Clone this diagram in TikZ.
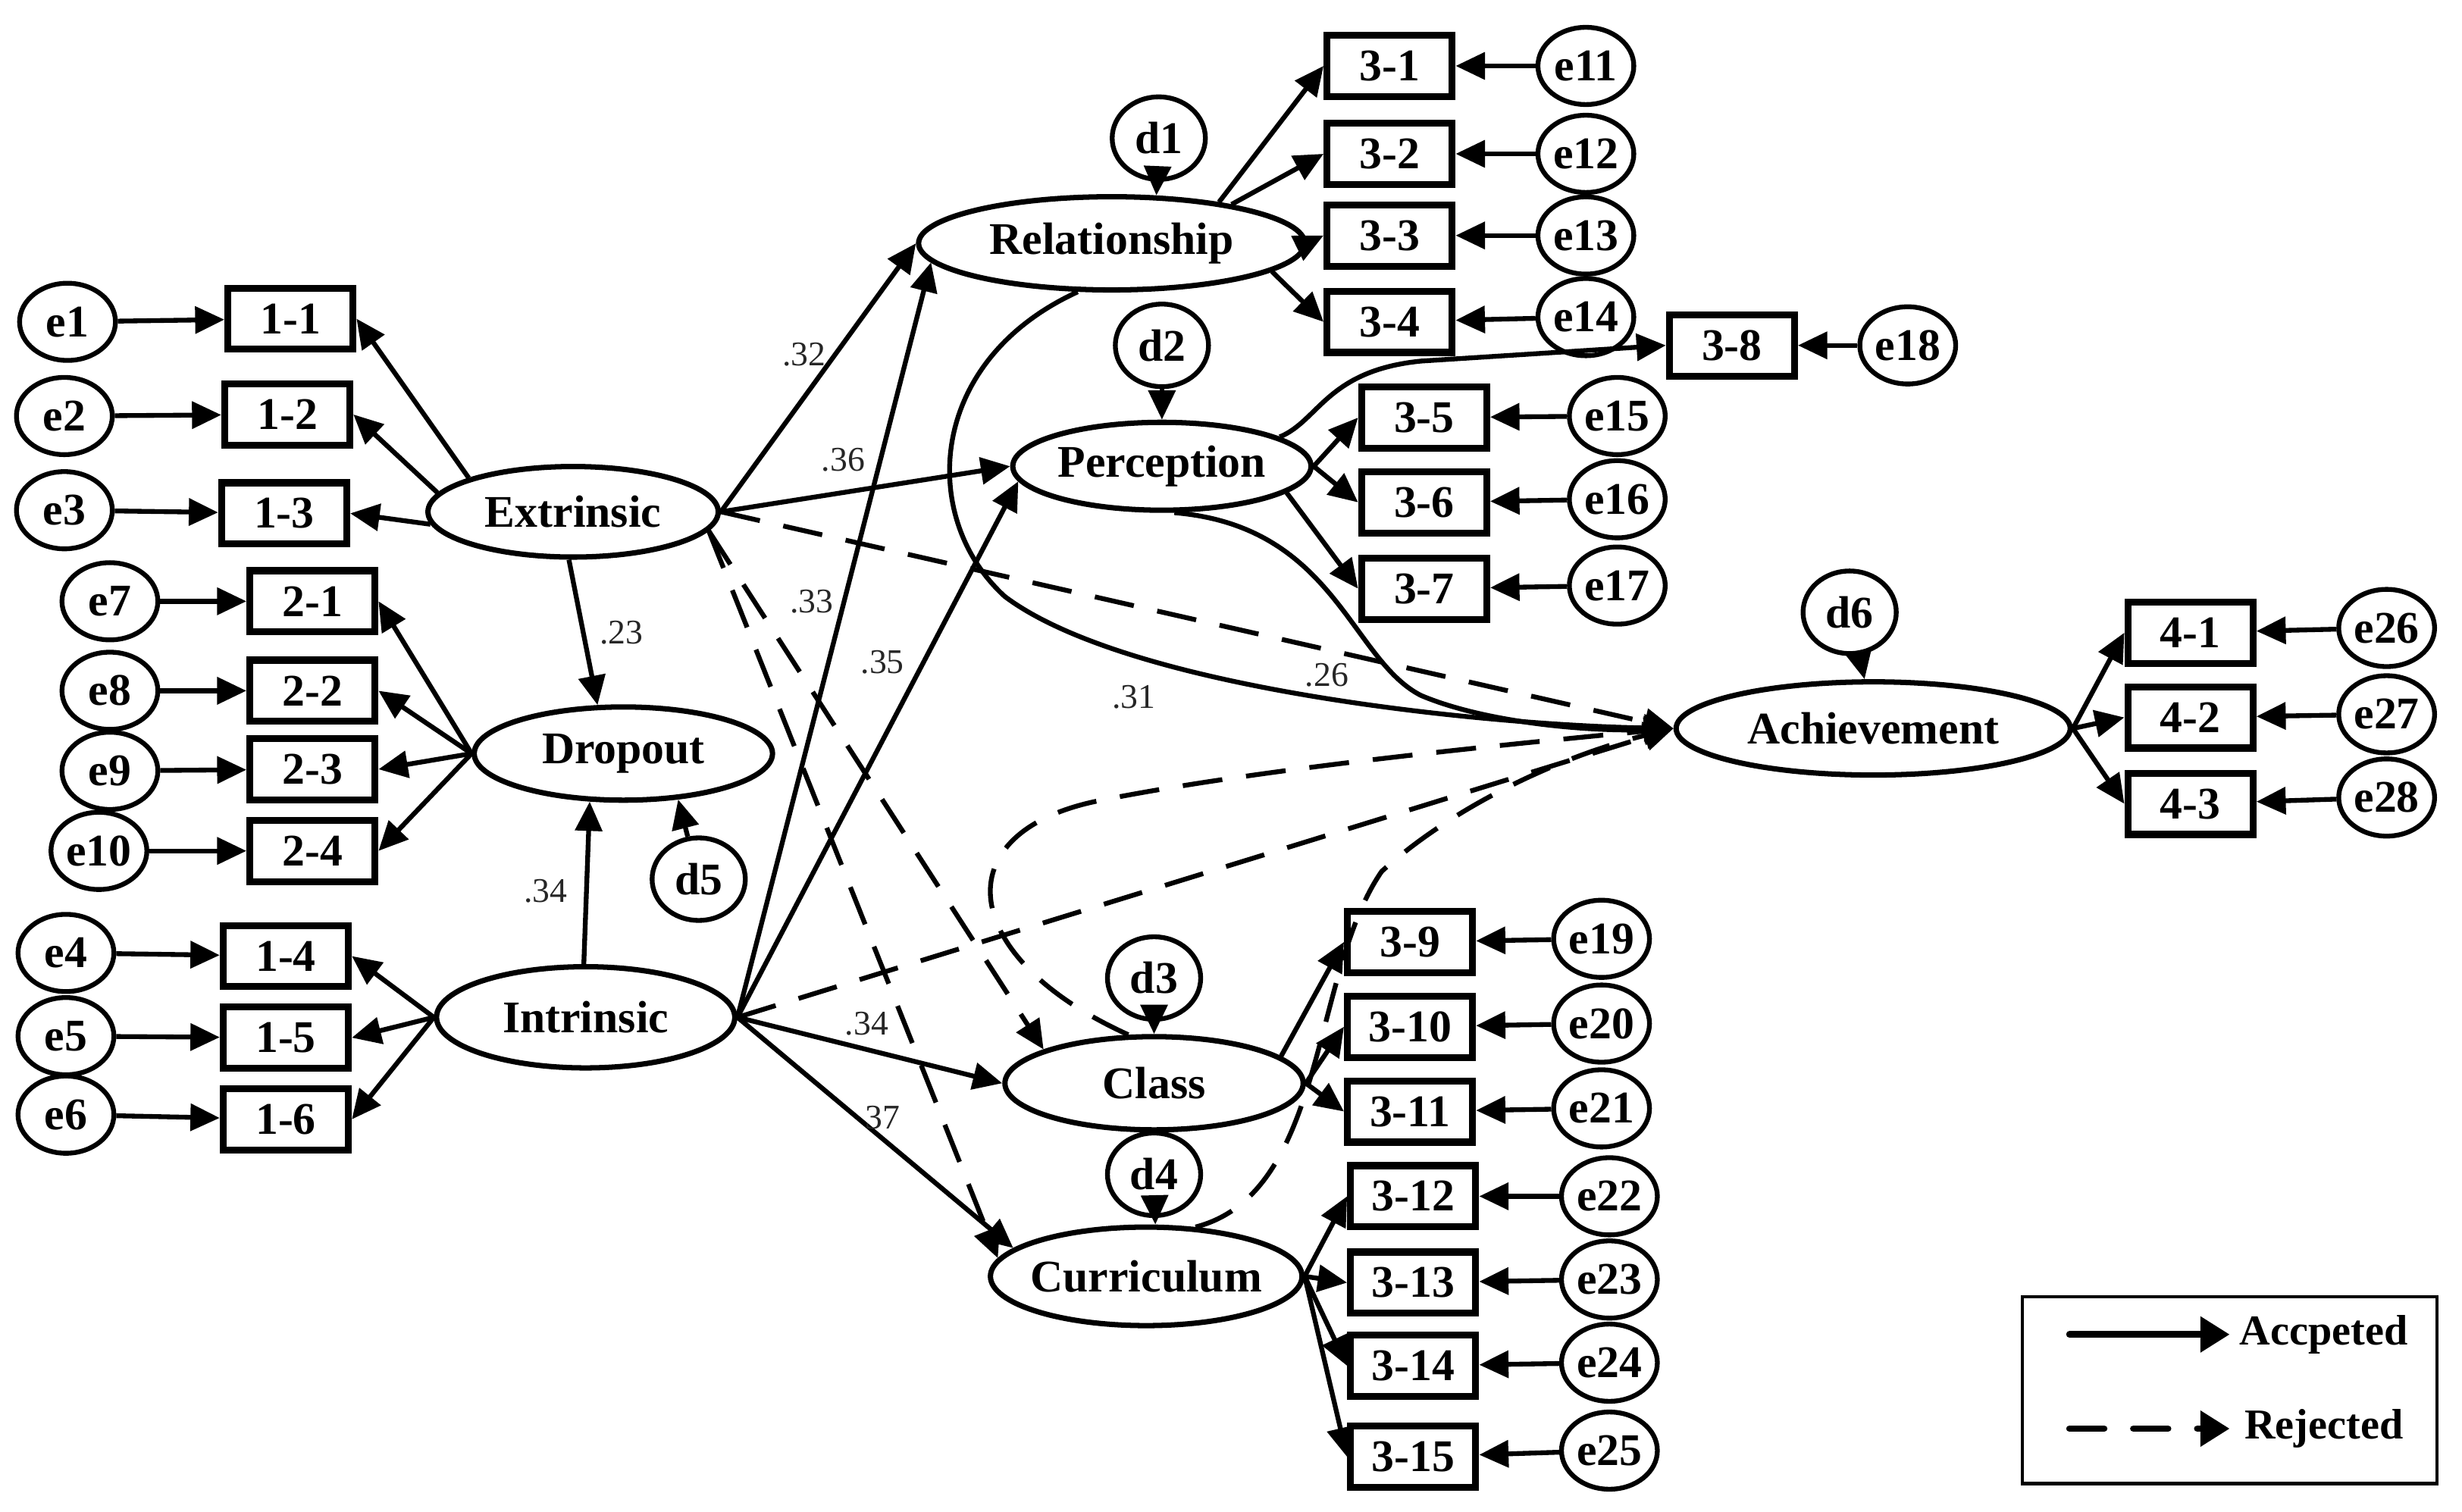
\documentclass[tikz,border=0pt]{standalone}
\usepackage{fontspec}
\setmainfont{Liberation Serif}
\usetikzlibrary{arrows.meta,shapes.geometric}
\begin{document}
\begin{tikzpicture}[x=0.020714cm,y=-0.020714cm,
 every node/.style={font=\fontsize{17}{20}\selectfont\bfseries},
 lat/.style={ellipse,draw,line width=2pt,inner sep=0pt},
 ind/.style={draw,line width=2.6pt,minimum width=47pt,minimum height=23pt,inner sep=0pt},
 err/.style={ellipse,draw,line width=1.8pt,minimum width=36pt,minimum height=29pt,inner sep=0pt},
 dis/.style={ellipse,draw,line width=1.8pt,minimum width=35pt,minimum height=31pt,inner sep=0pt},
 acc/.style={line width=1.8pt,-{Triangle[length=11pt,width=10pt]}},
 rej/.style={acc,dash pattern=on 15pt off 9pt},
 coef/.style={font=\fontsize{13}{15}\selectfont,text=black!85}]
\useasboundingbox (0,0) rectangle (1568,963);

% ---------- latent variables ----------
\node[lat,minimum width=109pt,minimum height=34pt] (ext) at (365,326) {Extrinsic};
\node[lat,minimum width=112pt,minimum height=35pt] (drop) at (397,480) {Dropout};
\node[lat,minimum width=112pt,minimum height=38pt] (intr) at (373,648) {Intrinsic};
\node[lat,minimum width=145pt,minimum height=35pt] (rel) at (708,155) {Relationship};
\node[lat,minimum width=112pt,minimum height=33pt] (perc) at (740,297) {Perception};
\node[lat,minimum width=112pt,minimum height=35pt] (cls) at (735,690) {Class};
\node[lat,minimum width=117pt,minimum height=37pt,inner xsep=-8pt] (cur) at (730,813) {Curriculum};
\node[lat,minimum width=148pt,minimum height=35pt] (ach) at (1193,464) {Achievement};

% ---------- disturbances ----------
\node[dis] (d1) at (738,88) {d1};
\node[dis] (d2) at (740,220) {d2};
\node[dis] (d3) at (735,623) {d3};
\node[dis] (d4) at (735,748) {d4};
\node[dis] (d5) at (445,560) {d5};
\node[dis] (d6) at (1178,390) {d6};

% ---------- left indicators ----------
\node[ind] (b11) at (185,203) {1-1};
\node[ind] (b12) at (183,264) {1-2};
\node[ind] (b13) at (181,327) {1-3};
\node[ind] (b21) at (199,383) {2-1};
\node[ind] (b22) at (199,440) {2-2};
\node[ind] (b23) at (199,490) {2-3};
\node[ind] (b24) at (199,542) {2-4};
\node[ind] (b14) at (182,609) {1-4};
\node[ind] (b15) at (182,661) {1-5};
\node[ind] (b16) at (182,713) {1-6};

\node[err] (e1) at (43,205) {e1};
\node[err] (e2) at (41,265) {e2};
\node[err] (e3) at (41,325) {e3};
\node[err] (e7) at (70,383) {e7};
\node[err] (e8) at (70,440) {e8};
\node[err] (e9) at (70,491) {e9};
\node[err] (e10) at (63,542) {e10};
\node[err] (e4) at (42,607) {e4};
\node[err] (e5) at (42,660) {e5};
\node[err] (e6) at (42,710) {e6};

% ---------- right indicators ----------
\node[ind] (b31) at (885,42) {3-1};
\node[ind] (b32) at (885,98) {3-2};
\node[ind] (b33) at (885,150) {3-3};
\node[ind] (b34) at (885,205) {3-4};
\node[ind] (b38) at (1103,220) {3-8};
\node[ind] (b35) at (907,266) {3-5};
\node[ind] (b36) at (907,320) {3-6};
\node[ind] (b37) at (907,375) {3-7};
\node[ind] (b39) at (898,600) {3-9};
\node[ind] (b310) at (898,654) {3-10};
\node[ind] (b311) at (898,708) {3-11};
\node[ind] (b312) at (900,762) {3-12};
\node[ind] (b313) at (900,817) {3-13};
\node[ind] (b314) at (900,870) {3-14};
\node[ind] (b315) at (900,928) {3-15};
\node[ind] (b41) at (1395,403) {4-1};
\node[ind] (b42) at (1395,457) {4-2};
\node[ind] (b43) at (1395,512) {4-3};

\node[err] (e11) at (1010,42) {e11};
\node[err] (e12) at (1010,98) {e12};
\node[err] (e13) at (1010,150) {e13};
\node[err] (e14) at (1010,202) {e14};
\node[err] (e18) at (1215,220) {e18};
\node[err] (e15) at (1030,265) {e15};
\node[err] (e16) at (1030,318) {e16};
\node[err] (e17) at (1030,373) {e17};
\node[err] (e19) at (1020,598) {e19};
\node[err] (e20) at (1020,652) {e20};
\node[err] (e21) at (1020,706) {e21};
\node[err] (e22) at (1025,762) {e22};
\node[err] (e23) at (1025,815) {e23};
\node[err] (e24) at (1025,868) {e24};
\node[err] (e25) at (1025,924) {e25};
\node[err] (e26) at (1520,400) {e26};
\node[err] (e27) at (1520,455) {e27};
\node[err] (e28) at (1520,508) {e28};

% ---------- error arrows ----------
\foreach \e/\b in {e1/b11,e2/b12,e3/b13,e7/b21,e8/b22,e9/b23,e10/b24,e4/b14,e5/b15,e6/b16,
  e11/b31,e12/b32,e13/b33,e14/b34,e18/b38,e15/b35,e16/b36,e17/b37,e19/b39,e20/b310,e21/b311,
  e22/b312,e23/b313,e24/b314,e25/b315,e26/b41,e27/b42,e28/b43}
  \draw[acc] (\e) -- (\b);

% ---------- measurement arrows ----------
\draw[acc] (ext.162) -- (b11.east);
\draw[acc] (ext.172) -- (b12.east);
\draw[acc] (ext.185) -- (b13.east);
\foreach \b in {b21,b22,b23,b24} \draw[acc] (drop.west) -- (\b.east);
\foreach \b in {b14,b15,b16} \draw[acc] (intr.west) -- (\b.east);
\draw[acc] (rel.21) -- (b31.west);
\draw[acc] (rel.18) -- (b32.west);
\draw[acc] (rel.east) -- (b33.west);
\draw[acc] (rel.-10) -- (b34.west);
\draw[acc] (perc.east) -- (b35.west);
\draw[acc] (perc.east) -- (b36.west);
\draw[acc] (perc.-12) -- (b37.west);
\draw[acc] (cls.12) -- (b39.west);
\draw[acc] (cls.east) -- (b310.west);
\draw[acc] (cls.east) -- (b311.west);
\foreach \b in {b312,b313,b314,b315} \draw[acc] (cur.east) -- (\b.west);
\foreach \b in {b41,b42,b43} \draw[acc] (ach.east) -- (\b.west);

% ---------- disturbance arrows ----------
\draw[acc] (d1) -- (rel.47);
\draw[acc] (d2) -- (perc);
\draw[acc] (d3) -- (cls);
\draw[acc] (d4) -- (cur.80);
\draw[acc] (d5) -- (drop.-40);
\draw[acc] (d6) -- (ach.100);

% ---------- structural paths ----------
\draw[acc] (ext.265) -- (drop.118) node[coef,pos=0.5,right=2pt] {.23};
\draw[acc] (intr.92) -- (drop.235) node[coef,pos=0.45,left=3pt] {.34};

\draw[acc] (ext.east) -- (rel.west);
\draw[acc] (ext.east) -- (perc.west);
\draw[acc] (intr.east) -- (rel.186);
\draw[acc] (intr.east) -- (perc.186);
\draw[acc] (intr.east) -- (cls.west);
\draw[acc] (intr.east) -- (cur.168);

\draw[rej] (ext.east) -- (ach.west);
\draw[rej] (ext.-8) -- (cls.163);
\draw[rej] (ext.-8) -- (cur.173);
\draw[rej] (intr.east) -- (ach.west);

\draw[acc] (rel.235) .. controls (590,230) and (585,330) .. (640,380)
  .. controls (720,440) and (950,462) .. (ach.west);
\draw[acc] (perc.285) .. controls (850,335) and (860,420) .. (905,443)
  .. controls (950,462) and (1020,466) .. (ach.west);
\draw[acc] (perc.14) .. controls (840,268) and (845,236) .. (905,230) -- (b38.west);

\draw[rej] (cls.118) .. controls (610,610) and (600,530) .. (700,510)
  .. controls (800,490) and (950,475) .. (ach.west);
\draw[rej] (cur.45) .. controls (845,760) and (835,620) .. (880,555)
  .. controls (930,510) and (1000,480) .. (ach.west);

% ---------- coefficients ----------
\node[coef] (c32) at (512,226) {.32};
\node[coef] (c36) at (537,293) {.36};
\node[coef] (c33) at (517,383) {.33};
\node[coef] (c35) at (562,422) {.35};
\node[coef] (c34b) at (552,652) {.34};
\node[coef] (c37) at (562,712) {37};
\node[coef] (c31) at (722,444) {.31};
\node[coef] (c26) at (845,430) {.26};

% ---------- legend ----------
\draw[line width=1.3pt] (1288,826) rectangle (1552,945);
\coordinate (la1) at (1318,850);
\coordinate (la2) at (1420,850);
\coordinate (lr1) at (1318,910);
\coordinate (lr2) at (1420,910);
\draw[line width=2.5pt,line cap=round,-{Triangle[length=11pt,width=13pt]}] (la1) -- (la2);
\draw[line width=2.5pt,line cap=round,dash pattern=on 13pt off 11pt,-{Triangle[length=11pt,width=13pt]}] (lr1) -- (lr2);
\node[font=\fontsize{16}{18}\selectfont\bfseries] (lacc) at (1480,850) {Accpeted};
\node[font=\fontsize{16}{18}\selectfont\bfseries] (lrej) at (1480,910) {Rejected};
\end{tikzpicture}
\end{document}
